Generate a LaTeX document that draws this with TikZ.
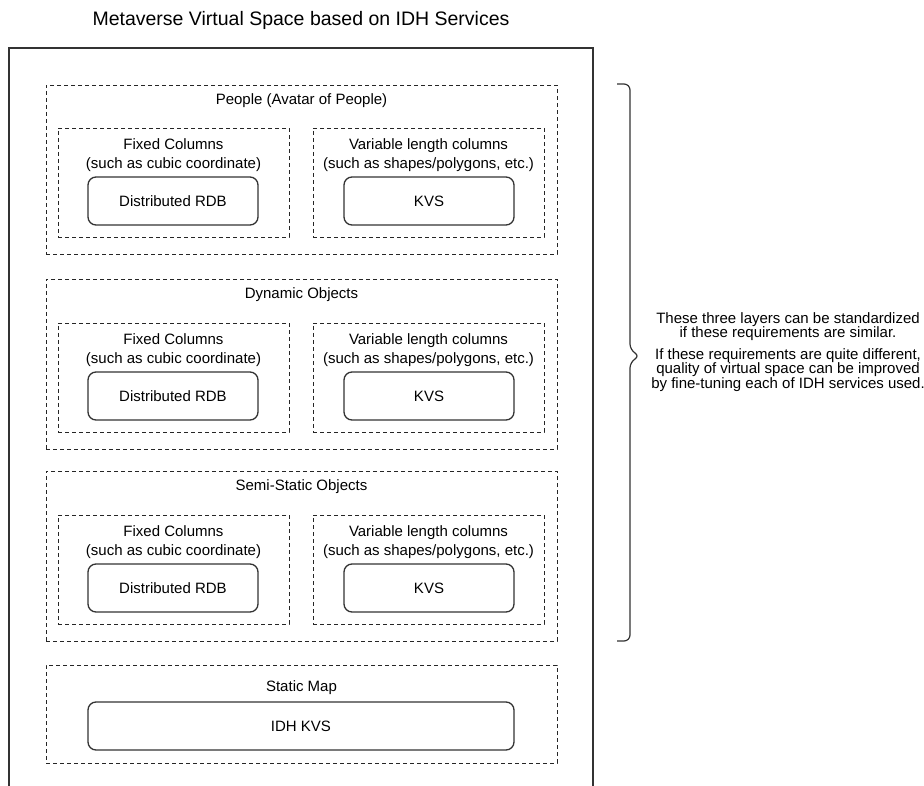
\documentclass[tikz,border=0pt]{standalone}
\usepackage{fontspec}
\setmainfont{Liberation Sans}
\usetikzlibrary{positioning}

\tikzset{
  frame/.style={line width=1.2pt, draw=black!80},
  layer/.style={draw=black!85, line width=0.9pt, dash pattern=on 4pt off 3pt,
                minimum width=511pt, inner sep=0pt},
  group/.style={draw=black!85, line width=0.9pt, dash pattern=on 4pt off 3pt,
                minimum width=231pt, minimum height=109pt, inner sep=0pt},
  store/.style={draw=black!80, line width=1.3pt, rounded corners=8pt,
                minimum width=170pt, minimum height=48pt,
                font=\fontsize{15}{18}\selectfont},
  lbl/.style={align=center, inner sep=0pt, font=\fontsize{15}{19}\selectfont},
}

\begin{document}
\begin{tikzpicture}[x=1pt, y=-1pt]
  \useasboundingbox (0,0) rectangle (924,786);

  % Titel und Rahmen
  \node[lbl, font=\fontsize{19.5}{23}\selectfont] (title) at (301,20)
    {Metaverse Virtual Space based on IDH Services};
  \draw[frame] (9,786) -- (9,48) -- (593,48) -- (593,786);

  % People
  \node[layer, minimum height=169pt] (people) at (301.5,169.5) {};
  \node[lbl] (peoplelbl) at (301.5,101) {People (Avatar of People)};
  \node[group] (fixA) at (173.5,182.5) {};
  \node[group] (varA) at (428.5,182.5) {};
  \node[lbl] (fixAlbl) at (173.5,155) {Fixed Columns\\(such as cubic coordinate)};
  \node[lbl] (varAlbl) at (428.5,155) {Variable length columns\\(such as shapes/polygons, etc.)};
  \node[store] (rdbA) at (173,201) {Distributed RDB};
  \node[store] (kvsA) at (429,201) {KVS};

  % Dynamic Objects
  \node[layer, minimum height=170pt] (dynamic) at (301.5,364) {};
  \node[lbl] (dynamiclbl) at (301.5,295) {Dynamic Objects};
  \node[group] (fixB) at (173.5,377.5) {};
  \node[group] (varB) at (428.5,377.5) {};
  \node[lbl] (fixBlbl) at (173.5,350) {Fixed Columns\\(such as cubic coordinate)};
  \node[lbl] (varBlbl) at (428.5,350) {Variable length columns\\(such as shapes/polygons, etc.)};
  \node[store] (rdbB) at (173,396) {Distributed RDB};
  \node[store] (kvsB) at (429,396) {KVS};

  % Semi-Static Objects
  \node[layer, minimum height=170pt] (semistatic) at (301.5,556) {};
  \node[lbl] (semistaticlbl) at (301.5,487) {Semi-Static Objects};
  \node[group] (fixC) at (173.5,569.5) {};
  \node[group] (varC) at (428.5,569.5) {};
  \node[lbl] (fixClbl) at (173.5,542) {Fixed Columns\\(such as cubic coordinate)};
  \node[lbl] (varClbl) at (428.5,542) {Variable length columns\\(such as shapes/polygons, etc.)};
  \node[store] (rdbC) at (173,588) {Distributed RDB};
  \node[store] (kvsC) at (429,588) {KVS};

  % Static Map
  \node[layer, minimum height=98pt] (staticmap) at (301.5,714) {};
  \node[lbl] (staticmaplbl) at (301.5,688) {Static Map};
  \node[store, minimum width=426pt] (idhkvs) at (301,726) {IDH KVS};

  % Klammer
  \draw[line width=1.2pt, draw=black!80, rounded corners=6pt]
    (617,84) -- (630,84) -- (630,350) -- (640,356) -- (630,362) -- (630,641) -- (617,641);
  \node[lbl, font=\fontsize{15}{14.5}\selectfont] (note) at (788,352)
    {These three layers can be standardized\\if these requirements are similar.\\[7pt]
     If these requirements are quite different,\\quality of virtual space can be improved\\by fine-tuning each of IDH services used.};
\end{tikzpicture}
\end{document}
